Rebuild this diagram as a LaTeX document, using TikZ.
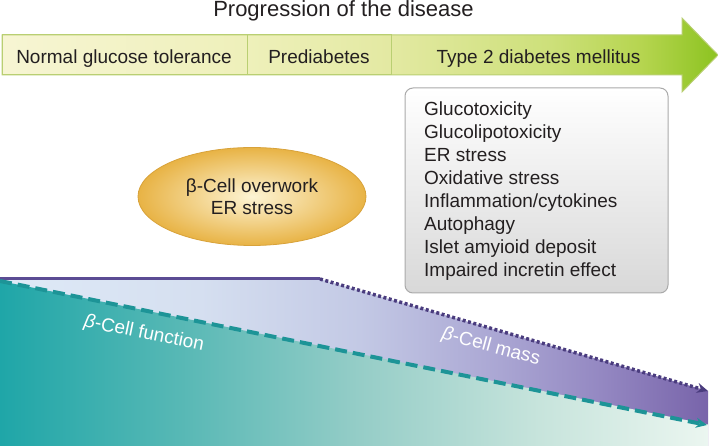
\documentclass[tikz,border=0pt]{standalone}
\usepackage{fontspec}
\setmainfont{Liberation Sans}
\usetikzlibrary{arrows.meta,shapes.geometric}
\definecolor{bandA}{HTML}{F7F5D3}
\definecolor{bandB}{HTML}{EEF0BA}
\definecolor{bandC}{HTML}{E3E9A2}
\definecolor{bandD}{HTML}{CDE07A}
\definecolor{bandE}{HTML}{B6D550}
\definecolor{bandF}{HTML}{8CC320}
\definecolor{bandBorder}{HTML}{B9CF72}
\definecolor{tA}{HTML}{1FA6A8}
\definecolor{tB}{HTML}{57B8B5}
\definecolor{tC}{HTML}{95CDC7}
\definecolor{tD}{HTML}{C7E4DC}
\definecolor{tE}{HTML}{EBF6F0}
\definecolor{lA}{HTML}{DFEAF7}
\definecolor{lB}{HTML}{D5DFF0}
\definecolor{lC}{HTML}{C3C9E5}
\definecolor{lD}{HTML}{AAA6D3}
\definecolor{lE}{HTML}{9488C2}
\definecolor{lF}{HTML}{7864AA}
\definecolor{purpleLine}{HTML}{5B4C94}
\definecolor{dotPurple}{HTML}{4A3C7E}
\definecolor{dashTeal}{HTML}{1D9497}
\definecolor{boxBorder}{HTML}{AAAAAA}
\definecolor{boxBottom}{HTML}{D8D8D8}
\definecolor{ellIn}{HTML}{FDF4D4}
\definecolor{ellOut}{HTML}{E8B345}
\definecolor{ellBorder}{HTML}{D8A23A}
\definecolor{txt}{HTML}{231F20}
\pgfdeclarehorizontalshading{bandshade}{100bp}{color(0bp)=(bandA); color(25bp)=(bandA); color(42.2bp)=(bandB); color(52.2bp)=(bandC); color(63.3bp)=(bandD); color(69.6bp)=(bandE); color(75bp)=(bandF); color(100bp)=(bandF)}
\pgfdeclarehorizontalshading{tealshade}{100bp}{color(0bp)=(tA); color(25bp)=(tA); color(37.7bp)=(tB); color(50.4bp)=(tC); color(63.1bp)=(tD); color(75bp)=(tE); color(100bp)=(tE)}
\pgfdeclarehorizontalshading{lavshade}{100bp}{color(0bp)=(lA); color(25bp)=(lA); color(39.1bp)=(lB); color(50.4bp)=(lC); color(60.3bp)=(lD); color(67.4bp)=(lE); color(75bp)=(lF); color(100bp)=(lF)}
\tikzset{
  bandtext/.style={font=\fontsize{19}{23}\selectfont, text=txt, text height=20pt, text depth=2pt, inner sep=0pt},
  segbox/.style={draw=bandBorder, line width=1pt, minimum height=40pt, inner sep=0pt},
  listtext/.style={font=\fontsize{19}{23}\selectfont, text=txt, anchor=base west, inner sep=0pt},
  curvelabel/.style={font=\fontsize{19}{23}\selectfont, text=white, inner sep=0pt},
  tealdash/.style={draw=dashTeal, line width=4pt, dash pattern=on 12pt off 6pt, -{Stealth[length=11pt,width=10pt]}},
  purpledot/.style={draw=dotPurple, line width=3.5pt, dash pattern=on 3pt off 2.5pt, -{Stealth[length=11pt,width=10pt]}},
}
\begin{document}
\begin{tikzpicture}[x=1pt,y=-1pt]
\useasboundingbox (0,0) rectangle (718,446);
% title
\node[font=\fontsize{22}{26}\selectfont, text=txt, anchor=base, inner sep=0pt] (title) at (343.5,17) {Progression of the disease};
% progression arrow
\shade[shading=bandshade, draw=bandBorder, line width=1pt]
  (2,35) -- (682,35) -- (682,18) -- (718,55) -- (682,92) -- (682,75) -- (2,75) -- cycle;
\node[segbox, minimum width=245pt] (s1) at (124.5,55) {};
\node[segbox, minimum width=144pt] (s2) at (319,55) {};
\node[bandtext] (t1) at (124,55) {Normal glucose tolerance};
\node[bandtext] (t2) at (319,55) {Prediabetes};
\node[bandtext] (t3) at (538.5,55) {Type 2 diabetes mellitus};
% bottom regions
\shade[shading=lavshade] (0,279) -- (320,279) -- (708,391) -- (708,446) -- (0,446) -- cycle;
\shade[shading=tealshade] (0,281) -- (708,424.5) -- (708,446) -- (0,446) -- cycle;
\coordinate (pl0) at (0,279);
\coordinate (pl1) at (320,279);
\coordinate (pl2) at (708,391);
\coordinate (tl0) at (0,281);
\coordinate (tl1) at (707,425);
\draw[draw=purpleLine, line width=3pt] (pl0) -- (pl1);
\draw[purpledot] (pl1) -- (pl2);
\draw[tealdash] (tl0) -- (tl1);
\node[curvelabel, rotate=-11.5] (lf) at (144,334) {{\itshape β}-Cell function};
\node[curvelabel, rotate=-15] (lm) at (491,347) {{\itshape β}-Cell mass};
% ellipse
\node[ellipse, draw=ellBorder, line width=0.8pt, inner color=ellIn, outer color=ellOut,
      minimum width=228pt, minimum height=98pt, inner sep=0pt,
      font=\fontsize{19}{22}\selectfont, text=txt, align=center] (ell) at (252,196.5) {β-Cell overwork\\ER stress};
% factor box
\node[draw=boxBorder, line width=1pt, rounded corners=8pt, top color=white, bottom color=boxBottom,
      minimum width=263pt, minimum height=205pt, inner sep=0pt] (box) at (536.5,190.5) {};
\foreach \t [count=\i] in {Glucotoxicity, Glucolipotoxicity, ER stress, Oxidative stress, Inflammation/cytokines, Autophagy, Islet amyioid deposit, Impaired incretin effect}
  \node[listtext] (g\i) at (424,{116+23*(\i-1)}) {\t};
\end{tikzpicture}
\end{document}
